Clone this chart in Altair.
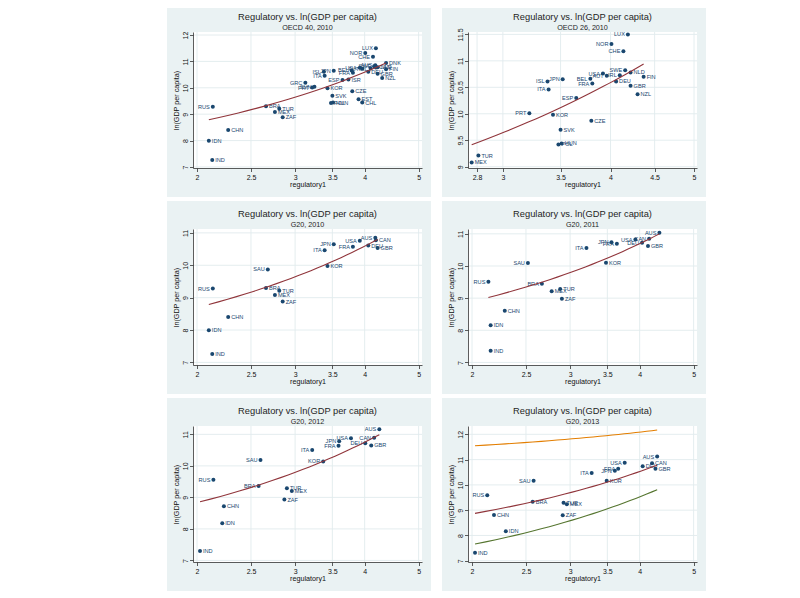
import altair as alt
import pandas as pd

# ---------------- data ----------------
# 2010 values (shared by the OECD 40, OECD 26 and G20 2010 panels)
countries_2010 = ["LUX", "NOR", "CHE", "DNK", "SWE", "NLD", "FIN", "IRL", "AUT", "USA",
                  "BEL", "FRA", "DEU", "GBR", "NZL", "ISL", "JPN", "ITA", "ESP", "PRT",
                  "KOR", "CZE", "SVK", "HUN", "POL", "TUR", "MEX", "GRC", "SVN", "ISR",
                  "EST", "CHL", "AUS", "CAN", "RUS", "CHN", "IDN", "IND", "BRA", "ZAF", "SAU"]
reg_2010 = [4.19, 4.01, 4.14, 4.37, 4.16, 4.22, 4.37, 4.10, 3.96, 3.92,
            3.79, 3.81, 4.06, 4.22, 4.30, 3.38, 3.52, 3.39, 3.65, 3.22,
            3.43, 3.80, 3.50, 3.51, 3.48, 2.81, 2.76, 3.13, 3.25, 3.74,
            3.90, 3.96, 4.18, 4.19, 2.135, 2.275, 2.10, 2.13, 2.66, 2.85, 2.68]
lngdp_2010 = [11.50, 11.32, 11.18, 10.94, 10.82, 10.78, 10.70, 10.73, 10.72, 10.76,
              10.66, 10.57, 10.61, 10.53, 10.37, 10.61, 10.65, 10.46, 10.30, 10.01,
              9.98, 9.87, 9.70, 9.44, 9.42, 9.21, 9.08, 10.19, 10.04, 10.31,
              9.57, 9.44, 10.85, 10.77, 9.28, 8.40, 7.99, 7.26, 9.30, 8.88, 9.87]

oecd40_members = [c for c in countries_2010 if c != "SAU"]
oecd26_members = ["LUX", "NOR", "CHE", "SWE", "NLD", "FIN", "IRL", "AUT", "USA", "BEL",
                  "FRA", "DEU", "GBR", "NZL", "ISL", "JPN", "ITA", "ESP", "PRT", "KOR",
                  "CZE", "SVK", "HUN", "POL", "TUR", "MEX"]
g20_members = ["AUS", "CAN", "USA", "DEU", "GBR", "JPN", "FRA", "ITA", "SAU", "KOR",
               "RUS", "BRA", "TUR", "MEX", "ZAF", "CHN", "IDN", "IND"]

# G20 values, same country order as g20_members
reg_2011 = [4.34, 4.16, 3.93, 4.04, 4.14, 3.56, 3.64, 3.21, 2.52, 3.48,
            2.14, 2.67, 2.88, 2.78, 2.90, 2.29, 2.16, 2.16]
lngdp_2011 = [11.03, 10.85, 10.82, 10.72, 10.62, 10.74, 10.69, 10.56, 10.09, 10.10,
              9.51, 9.45, 9.28, 9.21, 8.98, 8.61, 8.16, 7.36]
reg_2012 = [4.25, 4.16, 3.78, 4.01, 4.11, 3.60, 3.59, 3.22, 2.60, 3.37,
            2.14, 2.58, 2.90, 2.96, 2.87, 2.235, 2.22, 2.025]
lngdp_2012 = [11.16, 10.89, 10.88, 10.72, 10.65, 10.78, 10.64, 10.50, 10.19, 10.14,
              9.56, 9.36, 9.29, 9.20, 8.93, 8.72, 8.18, 7.30]
reg_2013 = [4.30, 4.21, 3.76, 4.05, 4.27, 3.61, 3.66, 3.28, 2.58, 3.49,
            2.13, 2.57, 2.92, 2.96, 2.91, 2.19, 2.30, 2.025]
lngdp_2013 = [11.12, 10.86, 10.88, 10.74, 10.64, 10.56, 10.64, 10.47, 10.16, 10.16,
              9.59, 9.33, 9.29, 9.23, 8.80, 8.81, 8.17, 7.32]

# fitted lines as (x, y) at both ends
fit_2010_x, fit_2010_y = [2.10, 4.37], [8.79, 10.94]
fit_2011_x, fit_2011_y = [2.14, 4.34], [9.02, 11.00]
fit_2012_x, fit_2012_y = [2.025, 4.25], [8.86, 10.99]
fit_2013_x, fit_2013_y = [2.025, 4.30], [8.875, 10.78]
upper_2013_x, upper_2013_y = [2.025, 4.30], [11.55, 12.17]
lower_2013_x, lower_2013_y = [2.025, 4.30], [7.66, 9.81]

# labels placed to the left of the marker (all others to the right)
left_oecd40 = ["LUX", "NOR", "CHE", "SWE", "IRL", "AUT", "USA", "BEL", "FRA", "ISL",
               "JPN", "ITA", "ESP", "PRT", "SVN", "GRC", "AUS", "RUS"]
left_oecd26 = ["LUX", "NOR", "CHE", "SWE", "IRL", "AUT", "USA", "BEL", "FRA", "ISL",
               "JPN", "ITA", "ESP", "PRT"]
left_2010 = ["USA", "AUS", "JPN", "FRA", "ITA", "SAU", "RUS"]
left_2011 = ["AUS", "CAN", "USA", "DEU", "JPN", "FRA", "ITA", "SAU", "RUS", "BRA"]
left_2012 = ["AUS", "CAN", "USA", "JPN", "FRA", "DEU", "ITA", "SAU", "KOR", "RUS", "BRA"]
left_2013 = ["AUS", "USA", "FRA", "JPN", "ITA", "SAU", "RUS"]

main_title = "Regulatory  vs. ln(GDP per capita)"
subtitles = ["OECD 40, 2010", "OECD 26, 2010", "G20, 2010", "G20, 2011", "G20, 2012", "G20, 2013"]
x_title = "regulatory1"
y_title = "ln(GDP per capita)"

xticks_main = [2, 2.5, 3, 3.5, 4, 5]
xticks_oecd26 = [2.8, 3, 3.5, 4, 4.5, 5]
yticks_7_12 = [7, 8, 9, 10, 11, 12]
yticks_7_11 = [7, 8, 9, 10, 11]
yticks_oecd26 = [9, 9.5, 10, 10.5, 11, 11.5]

# ---------------- styling ----------------
NAVY = "#1a476f"
MAROON = "#90353b"
ORANGE = "#e37e00"
GREEN = "#55752f"
PANEL_BG = "#eaf2f3"
GRID = "#e1ebed"
FONT = "Liberation Sans"
W, H = 229, 136
ML, MR, MB = 26, 9, 29

lookup_2010 = {c: (r, g) for c, r, g in zip(countries_2010, reg_2010, lngdp_2010)}


def frame_2010(members, left):
    return pd.DataFrame({
        "country": members,
        "reg": [lookup_2010[c][0] for c in members],
        "gdp": [lookup_2010[c][1] for c in members],
        "side": ["L" if c in left else "R" for c in members],
    })


def frame_g20(reg, gdp, left):
    return pd.DataFrame({
        "country": g20_members, "reg": reg, "gdp": gdp,
        "side": ["L" if c in left else "R" for c in g20_members],
    })


def panel(df, subtitle, xdom, xticks, ydom, yticks, mt, lines):
    one = pd.DataFrame({"k": [0]})
    xs = alt.Scale(type="log", domain=xdom, nice=False)
    ys = alt.Scale(type="linear", domain=ydom, nice=False, zero=False)
    common = dict(grid=False, zindex=1,
                  domainColor="#333333", domainWidth=0.8, tickColor="#333333",
                  tickWidth=0.8, tickSize=3.5, labelFont=FONT, labelFontSize=7,
                  labelColor="#111111", titleFont=FONT, titleFontSize=7.2,
                  titleFontWeight="normal", titleColor="#111111", labelPadding=1.5)
    xax = alt.Axis(values=xticks, format="~g", title=x_title, titlePadding=0.5, **common)
    yax = alt.Axis(values=yticks, format="~g", title=y_title, labelAngle=-90,
                   labelAlign="center", labelBaseline="bottom", titlePadding=1, **common)
    X = alt.X("reg:Q", scale=xs, axis=xax)
    Y = alt.Y("gdp:Q", scale=ys, axis=yax)

    bg = alt.Chart(one).mark_rect(color=PANEL_BG).encode(
        x=alt.value(-ML), x2=alt.value(W + MR), y=alt.value(-mt), y2=alt.value(H + MB))
    plotbg = alt.Chart(one).mark_rect(color="white").encode(
        x=alt.value(0), x2=alt.value(W), y=alt.value(0), y2=alt.value(H))
    gx = alt.Chart(pd.DataFrame({"reg": xticks})).mark_rule(
        color=GRID, strokeWidth=0.9).encode(x=X)
    gy = alt.Chart(pd.DataFrame({"gdp": yticks})).mark_rule(
        color=GRID, strokeWidth=0.9).encode(y=Y)
    t1 = alt.Chart(one).mark_text(font=FONT, fontSize=9.3, color="#1e1e1e",
                                  align="center", baseline="alphabetic").encode(
        x=alt.value(W / 2), y=alt.value(-12), text=alt.value(main_title))
    t2 = alt.Chart(one).mark_text(font=FONT, fontSize=7.2, color="#1e1e1e",
                                  align="center", baseline="alphabetic").encode(
        x=alt.value(W / 2), y=alt.value(-2.5), text=alt.value(subtitle))

    base = alt.Chart(df)
    pts = base.mark_circle(size=16, opacity=1, color=NAVY).encode(x=X, y=Y)
    lab_l = base.transform_filter(alt.datum.side == "L").mark_text(
        align="right", baseline="middle", dx=-3, font=FONT, fontSize=5.6, color=NAVY
    ).encode(x=X, y=Y, text="country:N")
    lab_r = base.transform_filter(alt.datum.side == "R").mark_text(
        align="left", baseline="middle", dx=3, font=FONT, fontSize=5.6, color=NAVY
    ).encode(x=X, y=Y, text="country:N")

    layers = [bg, plotbg, gx, gy, t1, t2, pts, lab_l, lab_r]
    # straight lines in regulatory1, drawn on the log axis (sampled by Vega's regression)
    for lx, ly, col in lines:
        ext = [float(df["reg"].min()), float(df["reg"].max())]
        layers.append(
            alt.Chart(pd.DataFrame({"reg": lx, "gdp": ly}))
            .transform_regression("reg", "gdp", method="poly", order=1, extent=ext)
            .mark_line(color=col, strokeWidth=1.1)
            .encode(x=X, y=Y))
    return alt.layer(*layers).properties(width=W, height=H)


xdom_main = [1.967, 5.07]
p1 = panel(frame_2010(oecd40_members, left_oecd40), subtitles[0], xdom_main, xticks_main,
           [6.96, 12.115], yticks_7_12, 24, [(fit_2010_x, fit_2010_y, MAROON)])
p2 = panel(frame_2010(oecd26_members, left_oecd26), subtitles[1], [2.733, 5.04], xticks_oecd26,
           [8.975, 11.545], yticks_oecd26, 24, [(fit_2010_x, fit_2010_y, MAROON)])
p3 = panel(frame_2010(g20_members, left_2010), subtitles[2], xdom_main, xticks_main,
           [6.92, 11.12], yticks_7_11, 28, [(fit_2010_x, fit_2010_y, MAROON)])
p4 = panel(frame_g20(reg_2011, lngdp_2011, left_2011), subtitles[3], xdom_main, xticks_main,
           [6.92, 11.15], yticks_7_11, 28, [(fit_2011_x, fit_2011_y, MAROON)])
p5 = panel(frame_g20(reg_2012, lngdp_2012, left_2012), subtitles[4], xdom_main, xticks_main,
           [6.95, 11.265], yticks_7_11, 28, [(fit_2012_x, fit_2012_y, MAROON)])
p6 = panel(frame_g20(reg_2013, lngdp_2013, left_2013), subtitles[5], xdom_main, xticks_main,
           [6.95, 12.33], yticks_7_12, 28,
           [(upper_2013_x, upper_2013_y, ORANGE), (fit_2013_x, fit_2013_y, MAROON),
            (lower_2013_x, lower_2013_y, GREEN)])

chart = alt.vconcat(
    alt.hconcat(p1, p2, spacing=11),
    alt.hconcat(p3, p4, spacing=11),
    alt.hconcat(p5, p6, spacing=11),
    spacing=4,
).properties(
    padding={"left": 159, "top": 0, "right": 0, "bottom": 0},
    background="white",
).configure_view(stroke=None)

chart.save("out.html", embed_options={"renderer": "svg", "actions": False})
